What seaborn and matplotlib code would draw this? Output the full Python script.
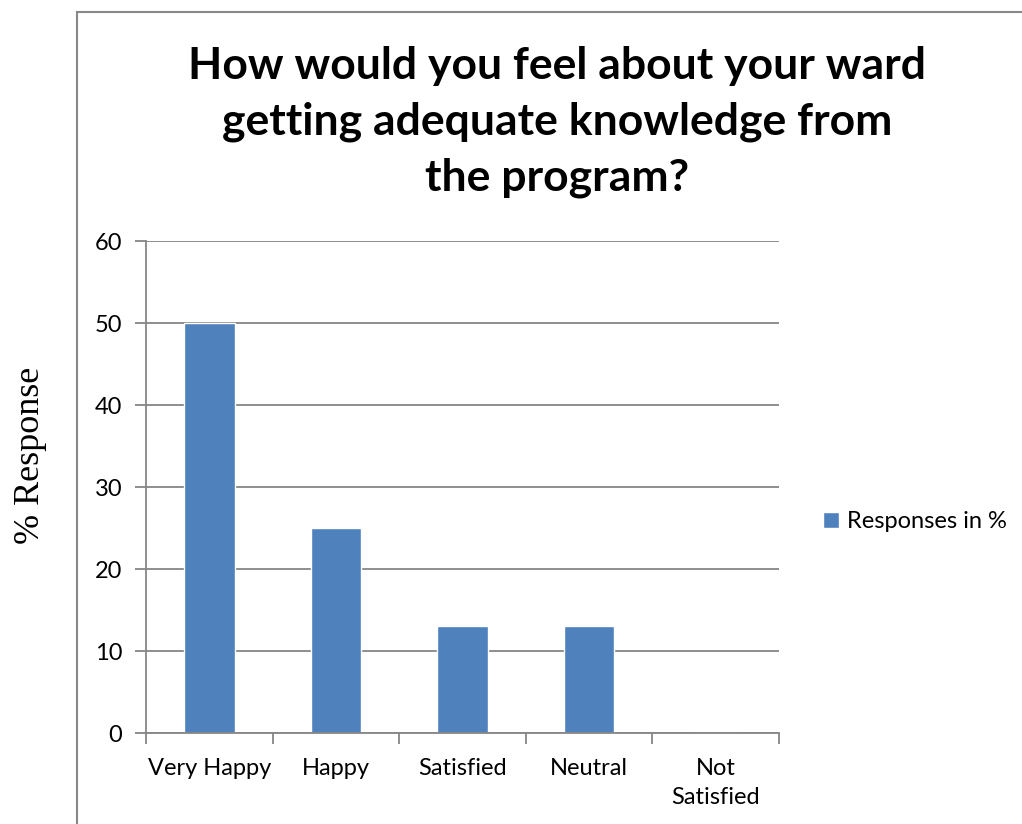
import matplotlib
matplotlib.use("Agg")
import matplotlib.pyplot as plt
import seaborn as sns
from matplotlib.patches import Rectangle

# Data
categories = ["Very Happy", "Happy", "Satisfied", "Neutral", "Not\nSatisfied"]
responses = [50, 25, 13, 13, 0]
series_name = "Responses in %"
title = "How would you feel about your ward\ngetting adequate knowledge from\nthe program?"

sns.set_style("white")
plt.rcParams["font.family"] = ["Lato", "DejaVu Sans"]
plt.rcParams["text.color"] = "black"
plt.rcParams["xtick.color"] = "black"
plt.rcParams["ytick.color"] = "black"

fig = plt.figure(figsize=(10.22, 8.24), dpi=100)
ax = fig.add_axes([146 / 1022, 1 - 733 / 824, 633 / 1022, 492 / 824])

# outer chart border (runs off the right and bottom edges)
fig.patches.append(Rectangle((77 / 1022, -0.1), 1.0, 1 - 12 / 824 + 0.1,
                             transform=fig.transFigure, fill=False,
                             edgecolor="#888888", linewidth=1.5))

sns.barplot(x=categories, y=responses, color="#4F81BD", width=0.4,
            saturation=1, label=series_name, ax=ax)

grey = "#868686"
ax.set_ylim(0, 60)
ax.set_yticks(range(0, 61, 10))
ax.yaxis.grid(True, color=grey, linewidth=1.3)
ax.set_axisbelow(True)
ax.set_xlim(-0.5, len(categories) - 0.5)

# tick marks at category boundaries, labels at centres
ax.set_xticks([i - 0.5 for i in range(len(categories) + 1)])
ax.set_xticklabels([])
ax.set_xticks(range(len(categories)), minor=True)
ax.set_xticklabels(categories, minor=True)
ax.tick_params(axis="x", which="major", bottom=True, length=8, width=1.3,
               color=grey, direction="out")
ax.tick_params(axis="x", which="minor", bottom=True, length=0, pad=18, labelsize=17)
ax.tick_params(axis="y", left=True, length=8, width=1.3, color=grey,
               direction="out", pad=9, labelsize=17)
for t in ax.get_xticklabels(minor=True):
    t.set_linespacing(1.5)

for side in ["top", "right"]:
    ax.spines[side].set_visible(False)
for side in ["left", "bottom"]:
    ax.spines[side].set_color(grey)
    ax.spines[side].set_linewidth(1.3)

ax.set_xlabel("")
ax.set_ylabel("")

fig.text(557 / 1022, 1 - 122 / 824, title, ha="center", va="center",
         fontsize=32, fontweight="bold", linespacing=1.48)
fig.text(31 / 1022, 1 - 455 / 824, "% Response", rotation=90, ha="center",
         va="center", fontsize=26, family="Liberation Serif")

ax.legend(loc="center left", bbox_to_anchor=(814 / 1022, 1 - 522 / 824),
          bbox_transform=fig.transFigure, frameon=False, fontsize=17,
          handlelength=0.65, handleheight=0.65, handletextpad=0.35, borderaxespad=0)

fig.savefig("out.png", dpi=100)
